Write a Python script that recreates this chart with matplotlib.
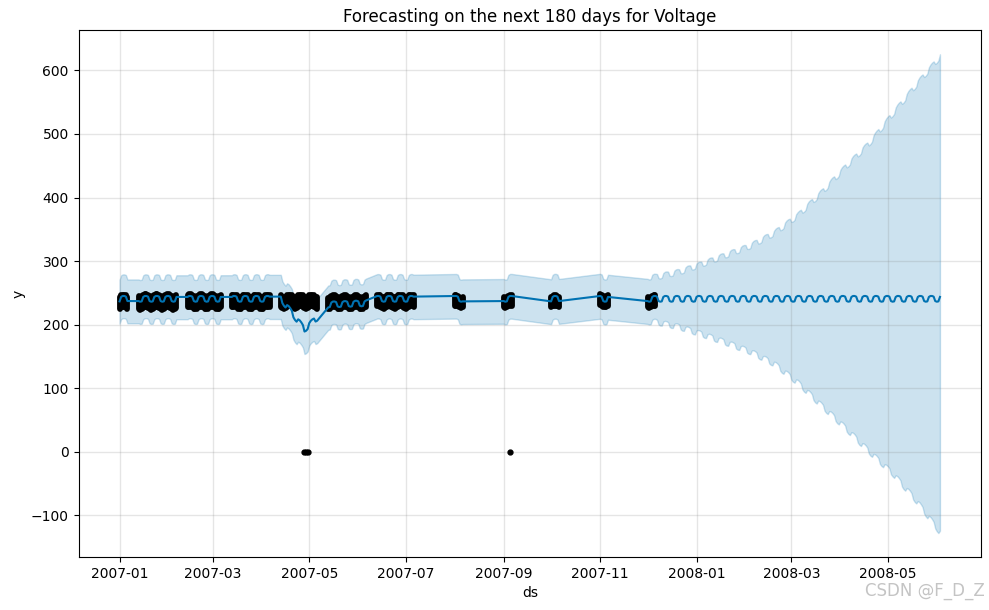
import numpy as np
import pandas as pd
import matplotlib
matplotlib.use("Agg")
import matplotlib.pyplot as plt
import matplotlib.dates as mdates

# ---------------- data ----------------
# observed clusters of days (history)
obs_start = ["2007-01-01", "2007-01-13", "2007-02-13", "2007-03-13", "2007-04-13",
             "2007-05-13", "2007-06-13", "2007-08-01", "2007-09-01", "2007-10-01",
             "2007-11-01", "2007-12-01"]
obs_end = ["2007-01-06", "2007-02-06", "2007-03-06", "2007-04-06", "2007-05-06",
           "2007-06-06", "2007-07-06", "2007-08-06", "2007-09-06", "2007-10-06",
           "2007-11-06", "2007-12-06"]
obs_low = [227, 226, 227, 227, 228, 227, 228, 229, 229, 229, 230, 229]
obs_high = [245, 246, 246, 245, 245, 244, 245, 244, 244, 244, 246, 244]
# daily shift of the observed cloud edges, Monday .. Sunday
obs_week_low = [-2, 0, 1, 1, 0, -2, -3]
obs_week_high = [-1, 1, 2, 2, 1, -1, -2]
zero_dates = ["2007-04-28", "2007-04-29", "2007-04-30", "2007-09-05"]
zero_values = [0, 0, 0, 0]

# weekly seasonal effect, Monday .. Sunday
weekly_effect = [-4.5, 2.5, 4.0, 4.0, 3.0, -4.0, -5.0]

# piecewise linear trend knots
trend_dates = ["2007-01-01", "2007-04-13", "2007-04-28", "2007-05-06", "2007-05-13",
               "2007-06-06", "2007-06-13", "2007-12-06", "2008-06-03"]
trend_values = [241, 241, 193, 211, 232, 234, 241, 241, 241]

# uncertainty interval half-widths (above / below yhat)
band_dates = ["2007-01-01", "2007-12-06", "2007-12-21", "2008-01-05", "2008-01-20",
              "2008-02-04", "2008-02-19", "2008-03-05", "2008-03-20", "2008-04-04",
              "2008-04-19", "2008-05-04", "2008-05-19", "2008-06-03"]
band_upper = [34, 35, 43, 56, 70, 84, 104, 132, 168, 208, 245, 292, 338, 382]
band_lower = [35, 36, 44, 56, 69, 83, 102, 132, 168, 203, 240, 275, 318, 368]

history_end = "2007-12-06"
periods = 180

# ---------------- build frames ----------------
hist_days = pd.DatetimeIndex(np.concatenate(
    [pd.date_range(s, e, freq="D").values for s, e in zip(obs_start, obs_end)]))
future_days = pd.date_range(pd.Timestamp(history_end) + pd.Timedelta(days=1),
                            periods=periods, freq="D")
fc_days = hist_days.append(future_days)

num = mdates.date2num(fc_days)
trend = np.interp(num, mdates.date2num(pd.to_datetime(trend_dates)), trend_values)
seas = np.array(weekly_effect)[fc_days.dayofweek]
yhat = trend + seas
bn = mdates.date2num(pd.to_datetime(band_dates))
yhat_upper = yhat + np.interp(num, bn, band_upper)
yhat_lower = yhat - np.interp(num, bn, band_lower)

obs_d, obs_lo, obs_hi = [], [], []
for s, e, lo, hi in zip(obs_start, obs_end, obs_low, obs_high):
    for d in pd.date_range(s, e, freq="D"):
        obs_d.append(d)
        obs_lo.append(lo + obs_week_low[d.dayofweek])
        obs_hi.append(hi + obs_week_high[d.dayofweek])

# ---------------- plot ----------------
fig = plt.figure(figsize=(9.89, 6.10), dpi=100)
ax = fig.add_axes([0.0794, 0.0869, 0.9125, 0.8634])

ax.vlines(obs_d, obs_lo, obs_hi, colors="k", linewidth=4.2, capstyle="round")
ax.plot(pd.to_datetime(zero_dates), zero_values, "k.", markersize=7)
ax.plot(fc_days, yhat, ls="-", c="#0072B2", lw=1.5)
ax.fill_between(fc_days, yhat_lower, yhat_upper, color="#0072B2", alpha=0.2)

ax.grid(True, which="major", c="gray", ls="-", lw=1, alpha=0.2)
ax.xaxis.set_major_locator(mdates.MonthLocator(bymonth=[1, 3, 5, 7, 9, 11]))
ax.xaxis.set_major_formatter(mdates.DateFormatter("%Y-%m"))
ax.set_xlabel("ds")
ax.set_ylabel("y")
ax.set_title("Forecasting on the next 180 days for Voltage")

fig.text(0.996, 0.016, "CSDN @F_D_Z", ha="right", va="bottom",
         fontsize=12, color="#c4c4c4")

fig.savefig("out.png", dpi=100)
